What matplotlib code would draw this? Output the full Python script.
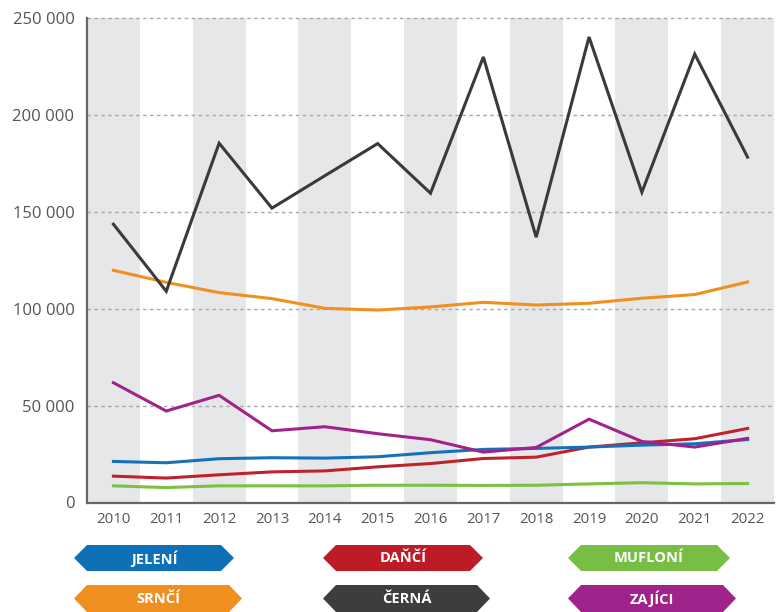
import matplotlib
matplotlib.use("Agg")
import matplotlib.pyplot as plt
from matplotlib.patches import Polygon

years = list(range(2010, 2023))
jeleni = [21200, 20500, 22600, 23100, 22900, 23600, 25700, 27400, 27900, 28600, 29600, 30300, 32500]
danci = [13600, 12600, 14300, 15800, 16300, 18400, 20100, 22700, 23400, 28600, 30800, 32900, 38200]
mufloni = [8600, 7700, 8600, 8600, 8600, 8900, 8900, 8800, 8900, 9600, 10200, 9600, 9800]
srnci = [119800, 113600, 108300, 105200, 100200, 99300, 100900, 103300, 101900, 102800, 105400, 107300, 113800]
cerna = [143600, 109000, 185400, 151900, 168600, 185200, 159600, 229900, 136900, 240200, 160100, 231400, 178200]
zajici = [61800, 47200, 55300, 37000, 39100, 35500, 32400, 26000, 28400, 43000, 31500, 28600, 33100]
yticks = [0, 50000, 100000, 150000, 200000, 250000]
ytick_labels = ["0", "50 000", "100 000", "150 000", "200 000", "250 000"]

series = [
    ("JELENÍ", jeleni, "#1572b9"),
    ("DAŇČÍ", danci, "#c0222c"),
    ("MUFLONÍ", mufloni, "#7cc142"),
    ("SRNČÍ", srnci, "#f0901e"),
    ("ČERNÁ", cerna, "#3a3a3a"),
    ("ZAJÍCI", zajici, "#a2228c"),
]
badge_colors = {"JELENÍ": "#0e71b8", "DAŇČÍ": "#bd1c26", "MUFLONÍ": "#78be44",
                "SRNČÍ": "#ee8f1f", "ČERNÁ": "#3d3d3d", "ZAJÍCI": "#a0228b"}

W, H = 777, 612
fig = plt.figure(figsize=(W / 100, H / 100), dpi=100)
ax = fig.add_axes([87 / W, 1 - 502.5 / H, (774 - 87) / W, (502.5 - 18) / H])

ax.set_xlim(2009.5, 2022.5)
ax.set_ylim(0, 250000)

# alternating bands
for i, yr in enumerate(years):
    if i % 2 == 0:
        ax.axvspan(yr - 0.5, yr + 0.5, color="#e6e7e8", zorder=0, lw=0)

# dotted gridlines
for yv in yticks[1:]:
    ax.axhline(yv, color="#a8a8a8", lw=1.0, ls=(0, (2.5, 2.5)), zorder=1, clip_on=False)

draw_order = ["MUFLONÍ", "DAŇČÍ", "JELENÍ", "ZAJÍCI", "SRNČÍ", "ČERNÁ"]
lookup = {n: (v, c) for n, v, c in series}
for name in draw_order:
    vals, col = lookup[name]
    ax.plot(years, vals, color=col, lw=2.2, zorder=3, solid_joinstyle="miter")

for s in ["top", "right"]:
    ax.spines[s].set_visible(False)
for s in ["left", "bottom"]:
    ax.spines[s].set_color("#666666")
    ax.spines[s].set_linewidth(1.6)

ax.set_yticks(yticks)
ax.set_yticklabels(ytick_labels, fontsize=12, color="#555555", family=["Open Sans", "DejaVu Sans"])
ax.set_xticks(years)
ax.set_xticklabels([str(y) for y in years], fontsize=10.8, color="#555555", family=["Open Sans", "DejaVu Sans"])
ax.tick_params(axis="both", length=0)
ax.tick_params(axis="y", pad=9)
ax.tick_params(axis="x", pad=7)

# legend badges (pixel coordinates)
badges = [
    ("JELENÍ", 74, 234, 545, 571),
    ("DAŇČÍ", 323, 483, 545, 571),
    ("MUFLONÍ", 568, 730, 545, 571),
    ("SRNČÍ", 74, 242, 585, 612),
    ("ČERNÁ", 323, 490, 585, 612),
    ("ZAJÍCI", 568, 736, 585, 612),
]
def fx(x):
    return x / W
def fy(y):
    return 1 - y / H
tip = 13
for name, x0, x1, y0, y1 in badges:
    ym = (y0 + y1) / 2
    pts = [(x0, ym), (x0 + tip, y0), (x1 - tip, y0), (x1, ym), (x1 - tip, y1), (x0 + tip, y1)]
    poly = Polygon([(fx(a), fy(b)) for a, b in pts], closed=True, transform=fig.transFigure,
                   facecolor=badge_colors[name], edgecolor="none")
    fig.patches.append(poly)
    fig.text(fx((x0 + x1) / 2), fy(ym + 0.5), name, color="white", fontsize=10.5, fontweight="bold",
             ha="center", va="center", family=["Liberation Sans Narrow", "Open Sans", "DejaVu Sans"])

fig.savefig("out.png", dpi=100)
